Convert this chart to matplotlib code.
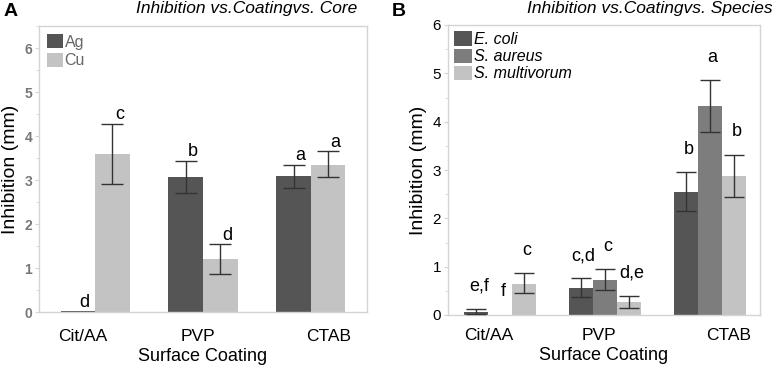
import matplotlib
matplotlib.use("Agg")
import matplotlib.pyplot as plt
from matplotlib.ticker import MultipleLocator
import numpy as np

# ---------------- data ----------------
coatings = ["Cit/AA", "PVP", "CTAB"]

# Panel A: core
core_names = ["Ag", "Cu"]
ag_mean = [0.02, 3.07, 3.08]
ag_lo = [0.02, 2.70, 2.82]
ag_hi = [0.02, 3.44, 3.35]
cu_mean = [3.60, 1.20, 3.35]
cu_lo = [2.92, 0.86, 3.06]
cu_hi = [4.28, 1.55, 3.65]
ag_letters = ["d", "b", "a"]
cu_letters = ["c", "d", "a"]

# Panel B: species
species_names = ["E. coli", "S. aureus", "S. multivorum"]
ecoli_mean = [0.07, 0.56, 2.55]
ecoli_lo = [0.02, 0.37, 2.15]
ecoli_hi = [0.13, 0.76, 2.96]
saureus_mean = [0.01, 0.73, 4.32]
saureus_lo = [0.01, 0.52, 3.79]
saureus_hi = [0.01, 0.95, 4.86]
smult_mean = [0.65, 0.26, 2.88]
smult_lo = [0.45, 0.14, 2.45]
smult_hi = [0.86, 0.39, 3.32]
ecoli_letters = ["e,f", "c,d", "b"]
saureus_letters = ["f", "c", "a"]
smult_letters = ["c", "d,e", "b"]

# ---------------- style ----------------
DARK = "#555555"
MID = "#7d7d7d"
LIGHT = "#c3c3c3"
FRAME = "#d4d4d4"
FONT = ["Liberation Sans", "DejaVu Sans"]
plt.rcParams["font.family"] = FONT

fig = plt.figure(figsize=(7.75, 3.67), dpi=100)

def style_frame(ax, tickcolor, xpad):
    for s in ax.spines.values():
        s.set_color(FRAME)
        s.set_linewidth(1.0)
    ax.yaxis.set_minor_locator(MultipleLocator(0.5))
    ax.tick_params(axis="y", which="major", length=3, color=FRAME, labelcolor=tickcolor,
                   labelsize=10, pad=2)
    ax.tick_params(axis="y", which="minor", length=2, color=FRAME)
    ax.tick_params(axis="x", length=0, labelsize=12.5, pad=xpad)

# ---------------- Panel A ----------------
axA = fig.add_axes([39/775, 1-312/367, (367-39)/775, (312-26)/367])
x = np.arange(len(coatings))
w = 0.32
err_kw = dict(ecolor="#333333", elinewidth=1.0, capsize=8, capthick=1.0)
series_A = [(ag_mean, ag_lo, ag_hi, DARK, ag_letters, -w/2),
            (cu_mean, cu_lo, cu_hi, LIGHT, cu_letters, w/2)]
for (m, lo, hi, c, letters, off), name in zip(series_A, core_names):
    m = np.array(m); lo = np.array(lo); hi = np.array(hi)
    yerr = np.vstack([m - lo, hi - m])
    show = (hi - lo) > 0.05
    axA.bar(x + off, m, w, color=c, label=name, zorder=2)
    axA.errorbar((x + off)[show], m[show], yerr=yerr[:, show], fmt="none", zorder=3, **err_kw)
    for xi, h, t in zip(x + off, hi, letters):
        axA.annotate(t, (xi, h + 0.2), xytext=(5, 0), textcoords="offset points",
                     ha="center", va="center", fontsize=13)
axA.set_xlim(-0.52, 2.52)
axA.set_ylim(0, 6.5)
axA.set_yticks(range(0, 7))
axA.set_xticks([-0.11, 0.95, 2.16])
axA.set_xticklabels(coatings)
style_frame(axA, "#777777", 12)
for lbl in axA.get_yticklabels():
    lbl.set_fontweight("bold")
axA.set_xlabel("Surface Coating", fontsize=13, labelpad=3)
axA.set_ylabel("Inhibition (mm)", fontsize=14, labelpad=4)
legA = axA.legend(loc="upper left", frameon=False, fontsize=11.5, handlelength=1.0,
                  handleheight=1.0, handletextpad=0.1, labelspacing=0.2,
                  borderaxespad=0.3, borderpad=0.2)
for t in legA.get_texts():
    t.set_color("#666666")
fig.text(357/775, 1-9/367, "Inhibition vs.Coatingvs. Core", ha="right", va="center",
         fontsize=12.5, style="italic")
fig.text(4/775, 1-11/367, "A", ha="left", va="center", fontsize=14, fontweight="bold")

# ---------------- Panel B ----------------
axB = fig.add_axes([448/775, 1-315/367, (760-448)/775, (315-25)/367])
wb = 0.23
err_kwB = dict(ecolor="#333333", elinewidth=1.0, capsize=7, capthick=1.0)
series_B = [(ecoli_mean, ecoli_lo, ecoli_hi, DARK, ecoli_letters, -wb),
            (saureus_mean, saureus_lo, saureus_hi, MID, saureus_letters, 0.0),
            (smult_mean, smult_lo, smult_hi, LIGHT, smult_letters, wb)]
for (m, lo, hi, c, letters, off), name in zip(series_B, species_names):
    m = np.array(m); lo = np.array(lo); hi = np.array(hi)
    yerr = np.vstack([m - lo, hi - m])
    show = (hi - lo) > 0.02
    axB.bar(x + off, m, wb, color=c, label=name, zorder=2)
    axB.errorbar((x + off)[show], m[show], yerr=yerr[:, show], fmt="none", zorder=3, **err_kwB)
    for xi, h, t in zip(x + off, hi, letters):
        axB.annotate(t, (xi, h + 0.47), xytext=(2, 0), textcoords="offset points",
                     ha="center", va="center", fontsize=13)
axB.set_xlim(-0.5, 2.48)
axB.set_ylim(0, 6)
axB.set_yticks(range(0, 7))
axB.set_xticks([-0.11, 0.94, 2.18])
axB.set_xticklabels(coatings)
style_frame(axB, "black", 9)
axB.tick_params(axis="y", which="major", labelsize=11)
axB.set_xlabel("Surface Coating", fontsize=13, labelpad=3)
axB.set_ylabel("Inhibition (mm)", fontsize=14, labelpad=4)
legB = axB.legend(loc="upper left", frameon=False, handlelength=1.1,
                  handleheight=1.0, handletextpad=0.1, labelspacing=0.1,
                  borderaxespad=0.2, borderpad=0.2, prop={"style": "italic", "size": 11.5})
fig.text(773/775, 1-9/367, "Inhibition vs.Coatingvs. Species", ha="right", va="center",
         fontsize=12.5, style="italic")
fig.text(392/775, 1-11/367, "B", ha="left", va="center", fontsize=14, fontweight="bold")

fig.savefig("out.png", dpi=100)
